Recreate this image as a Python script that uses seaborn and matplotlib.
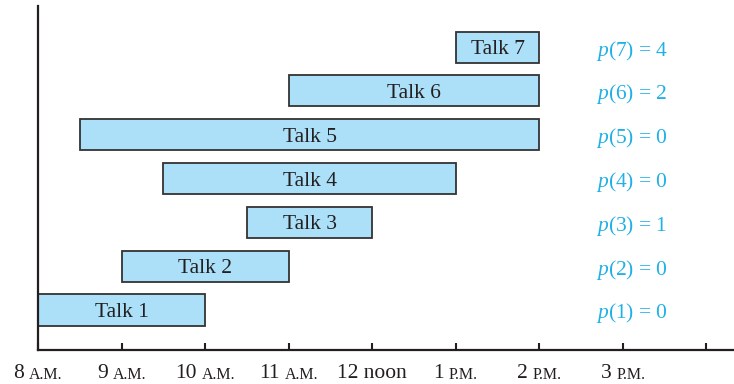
import matplotlib
matplotlib.use("Agg")
import matplotlib.pyplot as plt
import seaborn as sns

# talks: start / end hours (24h clock)
talks = ["Talk 1", "Talk 2", "Talk 3", "Talk 4", "Talk 5", "Talk 6", "Talk 7"]
starts = [8, 9, 10.5, 9.5, 8.5, 11, 13]
ends = [10, 11, 12, 13, 14, 14, 14]
p_values = [0, 0, 1, 0, 0, 2, 4]

tick_hours = [8, 9, 10, 11, 12, 13, 14, 15, 16]
tick_nums = ["8", "9", "10", "11", "12 noon", "1", "2", "3", ""]
tick_suffix = ["A.M.", "A.M.", "A.M.", "A.M.", "", "P.M.", "P.M.", "P.M.", ""]

sns.set_theme(style="white")
plt.rcParams["font.family"] = ["Liberation Serif", "DejaVu Serif"]
plt.rcParams["mathtext.fontset"] = "custom"
plt.rcParams["mathtext.rm"] = "Liberation Serif"
plt.rcParams["mathtext.it"] = "Liberation Serif:italic"

ink = "#231f20"
fill = "#abe0f8"
blue = "#1fb0e6"

fig = plt.figure(figsize=(7.34, 3.84), dpi=100)
ax = fig.add_axes([38 / 734, 1 - 350 / 384, 1 - 38 / 734, 344 / 384])

ypos = list(range(1, len(talks) + 1))
durations = [e - s for s, e in zip(starts, ends)]
ax.barh(ypos, durations, left=starts, height=0.71, color=fill,
        edgecolor="#333333", linewidth=1.3)

for y, s, e, name in zip(ypos, starts, ends, talks):
    ax.text((s + e) / 2, y, name, ha="center", va="center_baseline",
            fontsize=15.5, color=ink)

for y, p in zip(ypos, p_values):
    ax.text(14.68, y, f"$p$({y}) = {p}", ha="left", va="center_baseline",
            fontsize=15.5, color=blue)

ax.set_xlim(8, 16.33)
ax.set_ylim(0.087, 7.937)
ax.set_yticks([])
ax.set_xticks(tick_hours)
ax.set_xticklabels([])
ax.tick_params(axis="x", direction="in", length=5, width=1.5, color=ink,
               bottom=True)
sns.despine(ax=ax)
for side in ["left", "bottom"]:
    ax.spines[side].set_color(ink)
    ax.spines[side].set_linewidth(1.6)

# tick labels with small-caps suffix
gap = 3.5
pairs = []
for h, num, suf in zip(tick_hours, tick_nums, tick_suffix):
    if not num:
        continue
    t1 = ax.annotate(num, xy=(h, 0), xycoords=("data", "axes fraction"),
                     xytext=(0, -10), textcoords="offset points",
                     ha="left", va="top", fontsize=15.5, color=ink)
    t2 = ax.annotate(suf, xy=(1, 0), xycoords=t1, xytext=(gap, 0),
                     textcoords="offset points", ha="left", va="bottom",
                     fontsize=11.5, color=ink)
    pairs.append((t1, t2))

fig.canvas.draw()
r = fig.canvas.get_renderer()
for t1, t2 in pairs:
    w = t1.get_window_extent(r).width
    if t2.get_text():
        w += t2.get_window_extent(r).width + gap * fig.dpi / 72
    t1.set_position((-w / 2 * 72 / fig.dpi, -10))

fig.savefig("out.png", dpi=100)
